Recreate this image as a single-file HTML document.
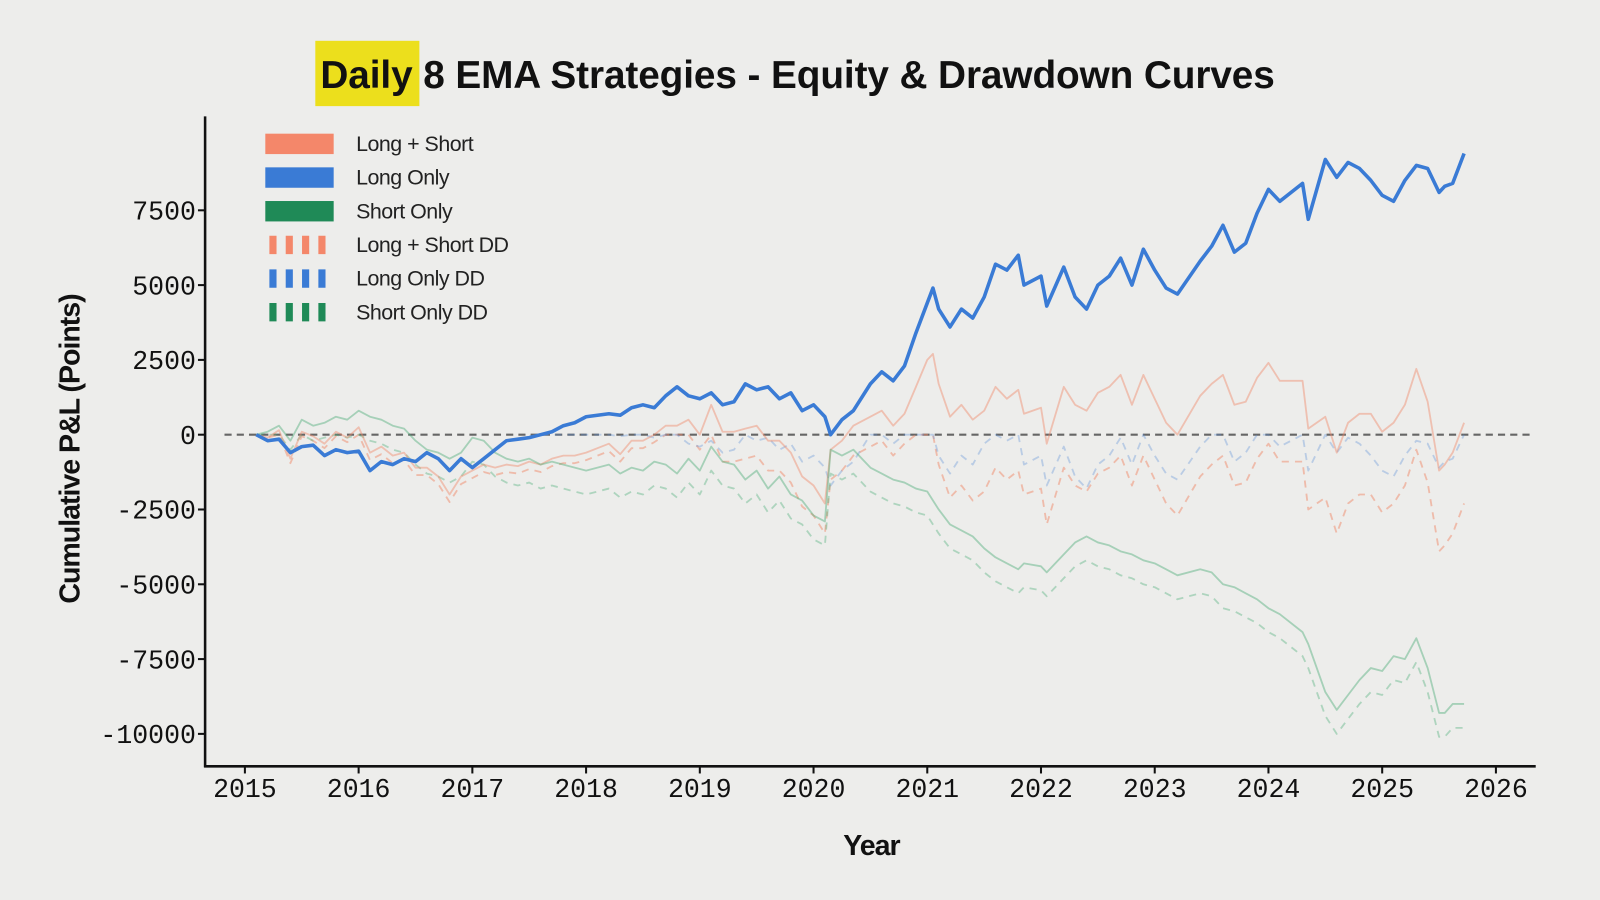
<!DOCTYPE html>
<html><head><meta charset="utf-8"><style>
html,body{margin:0;padding:0;background:#ededeb;}
svg{display:block}
</style></head><body>
<svg id="chart" width="1600" height="900" viewBox="0 0 1568 882" xmlns="http://www.w3.org/2000/svg">
<rect x="0" y="0" width="1568" height="882" fill="#ededeb"/>
<g>
<rect x="309" y="40" width="102" height="64" fill="#ecdf1c"/>
<text x="314" y="86" font-family="Liberation Sans, sans-serif" font-weight="bold" font-size="38" fill="#111" letter-spacing="-0.1">Daily 8 EMA Strategies - Equity &amp; Drawdown Curves</text>
</g>
<g id="grid"></g>
<g id="series"></g>
<g id="axes"></g>
<g id="legend"></g>
<text x="854" y="838" text-anchor="middle" font-family="Liberation Sans, sans-serif" font-weight="bold" font-size="28" fill="#111" letter-spacing="-1">Year</text>
<text transform="translate(78,440) rotate(-90)" text-anchor="middle" font-family="Liberation Sans, sans-serif" font-weight="bold" font-size="28" fill="#111" letter-spacing="-1">Cumulative P&amp;L (Points)</text>
</svg>
<script>
const dates = [2015.1,2015.2,2015.3,2015.4,2015.5,2015.6,2015.7,2015.8,2015.9,
2016.0,2016.1,2016.2,2016.3,2016.4,2016.5,2016.6,2016.7,2016.8,2016.9,
2017.0,2017.1,2017.2,2017.3,2017.4,2017.5,2017.6,2017.7,2017.8,2017.9,
2018.0,2018.2,2018.3,2018.4,2018.5,2018.6,2018.7,2018.8,2018.9,
2019.0,2019.1,2019.2,2019.3,2019.4,2019.5,2019.6,2019.7,2019.8,2019.9,
2020.0,2020.1,2020.15,2020.25,2020.35,2020.5,2020.6,2020.7,2020.8,2020.9,
2021.0,2021.05,2021.1,2021.2,2021.3,2021.4,2021.5,2021.6,2021.7,2021.8,2021.85,
2022.0,2022.05,2022.2,2022.3,2022.4,2022.5,2022.6,2022.7,2022.8,2022.9,
2023.0,2023.1,2023.2,2023.4,2023.5,2023.6,2023.7,2023.8,2023.9,
2024.0,2024.1,2024.3,2024.35,2024.5,2024.6,2024.7,2024.8,2024.9,
2025.0,2025.1,2025.2,2025.3,2025.4,2025.5,2025.55,2025.62,2025.72];
const longOnly = [0,-200,-150,-600,-400,-350,-700,-500,-600,
-550,-1200,-900,-1000,-800,-900,-600,-800,-1200,-800,
-1100,-800,-500,-200,-150,-100,0,100,300,400,
600,700,650,900,1000,900,1300,1600,1300,
1200,1400,1000,1100,1700,1500,1600,1200,1400,800,
1000,600,0,500,800,1700,2100,1800,2300,3400,
4400,4900,4200,3600,4200,3900,4600,5700,5500,6000,5000,
5300,4300,5600,4600,4200,5000,5300,5900,5000,6200,
5500,4900,4700,5800,6300,7000,6100,6400,7400,
8200,7800,8400,7200,9200,8600,9100,8900,8500,
8000,7800,8500,9000,8900,8100,8300,8400,9400];
const shortOnly = [0,100,300,-200,500,300,400,600,500,
800,600,500,300,200,-200,-500,-600,-800,-600,
-100,-200,-600,-800,-900,-800,-1000,-900,-1000,-1100,
-1200,-1000,-1300,-1100,-1200,-900,-1000,-1300,-800,
-1200,-400,-900,-1000,-1500,-1200,-1800,-1400,-2000,-2200,
-2700,-2900,-500,-700,-500,-1100,-1300,-1500,-1600,-1800,
-1900,-2200,-2500,-3000,-3200,-3400,-3800,-4100,-4300,-4500,-4300,
-4400,-4600,-4000,-3600,-3400,-3600,-3700,-3900,-4000,-4200,
-4300,-4500,-4700,-4500,-4600,-5000,-5100,-5300,-5500,
-5800,-6000,-6600,-7000,-8600,-9200,-8700,-8200,-7800,
-7900,-7400,-7500,-6800,-7800,-9300,-9300,-9000,-9000];
const longShort = longOnly.map((v,i)=>v+shortOnly[i]);
const xTicks = [2015,2016,2017,2018,2019,2020,2021,2022,2023,2024,2025,2026];
const yTicks = [-10000,-7500,-5000,-2500,0,2500,5000,7500];

const NS='http://www.w3.org/2000/svg';
const X = d => 240 + (d-2015)*(1466-240)/11;
const Y = v => 426 - v*(73.3/2500);
function el(tag, attrs, parent){const e=document.createElementNS(NS,tag);for(const k in attrs)e.setAttribute(k,attrs[k]);parent.appendChild(e);return e;}
const dd = arr => {let m=-Infinity;return arr.map(v=>{m=Math.max(m,v);return v-m;});};
const pts = arr => arr.map((v,i)=>X(dates[i]).toFixed(1)+','+Y(v).toFixed(1)).join(' ');

const series=document.getElementById('series');
const zl=el('line',{x1:220,x2:1500,y1:Y(0),y2:Y(0),stroke:'#666','stroke-width':2,'stroke-dasharray':'7,5'},series);



const defs=[
 ['long-short-dd-line',dd(longShort),'#f08a6a',0.5,1.8,'7,6'],
 ['long-only-dd-line',dd(longOnly),'#5b8fd8',0.35,1.8,'7,6'],
 ['short-only-dd-line',dd(shortOnly),'#4fae7a',0.4,1.8,'7,6'],
 ['long-short-line',longShort,'#f08a6a',0.45,1.8,null],
 ['short-only-line',shortOnly,'#4fae7a',0.45,1.8,null],
 ['long-only-line',longOnly,'#3a7bd5',1,3.5,null]];
defs.forEach(d=>{
 const a={points:pts(d[1]),fill:'none',stroke:d[2],'stroke-opacity':d[3],'stroke-width':d[4],'stroke-linejoin':'round'};
 if(d[5])a['stroke-dasharray']=d[5];
 const p=el('polyline',a,series);
 
 
});

const axes=document.getElementById('axes');
const ya=el('line',{x1:201,x2:201,y1:114,y2:752,stroke:'#111','stroke-width':2.5},axes);


const xa=el('line',{x1:200,x2:1505,y1:751,y2:751,stroke:'#111','stroke-width':2.5},axes);


xTicks.forEach(t=>{
 el('line',{x1:X(t),x2:X(t),y1:751,y2:758,stroke:'#111','stroke-width':2},axes);
 const tx=el('text',{x:X(t),y:781,'text-anchor':'middle','font-family':'Liberation Mono, monospace','font-size':26,fill:'#111'},axes);
 tx.textContent=t;
 
 
});
yTicks.forEach(t=>{
 el('line',{x1:194,x2:201,y1:Y(t),y2:Y(t),stroke:'#111','stroke-width':2},axes);
 const tx=el('text',{x:192,y:Y(t)+9,'text-anchor':'end','font-family':'Liberation Mono, monospace','font-size':26,fill:'#111'},axes);
 tx.textContent=t;
 
 
});

const legend=document.getElementById('legend');
const leg=[['Long + Short','#f4876a',false],['Long Only','#3a7bd5',false],['Short Only','#1f8a57',false],
 ['Long + Short DD','#f4876a',true],['Long Only DD','#3a7bd5',true],['Short Only DD','#1f8a57',true]];
leg.forEach((l,i)=>{
 const y=141+i*33;
 const g=el('g',{},legend);
 
 
 if(l[2]){
  el('line',{x1:264,x2:326,y1:y,y2:y,stroke:l[1],'stroke-width':18,'stroke-dasharray':'7,9'},g);
 } else {
  el('rect',{x:260,y:y-10,width:67,height:20,fill:l[1]},g);
 }
 const tx=el('text',{x:349,y:y+7,'font-family':'Liberation Sans, sans-serif','font-size':21,fill:'#222','letter-spacing':'-0.5'},g);
 tx.textContent=l[0];
});
</script>
</body></html>
